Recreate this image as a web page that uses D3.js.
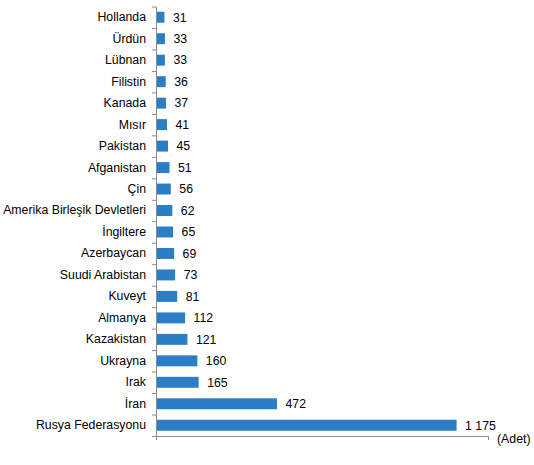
<!DOCTYPE html>
<html>
<head>
<meta charset="utf-8">
<script src="https://cdn.jsdelivr.net/npm/d3@7"></script>
<style>
  body { margin: 0; background: #fff; }
  svg { display: block; font-family: "Liberation Sans", Arial, sans-serif; }
</style>
</head>
<body>
<div id="chart"></div>
<script>
const countries = [
  'Hollanda', 'Ürdün', 'Lübnan', 'Filistin', 'Kanada', 'Mısır', 'Pakistan',
  'Afganistan', 'Çin', 'Amerika Birleşik Devletleri', 'İngiltere', 'Azerbaycan',
  'Suudi Arabistan', 'Kuveyt', 'Almanya', 'Kazakistan', 'Ukrayna', 'Irak',
  'İran', 'Rusya Federasyonu'
]
const counts = [31, 33, 33, 36, 37, 41, 45, 51, 56, 62, 65, 69, 73, 81, 112, 121, 160, 165, 472, 1175]
const xDomain = [0, 1300]
const unitLabel = '(Adet)'

const data = countries.map((c, i) => ({ name: c, value: counts[i] }))

const W = 534, H = 465
const plotLeft = 156, plotRight = 488, plotTop = 6.5, plotBottom = 436
const fontSize = 12.3

const svg = d3.select('#chart').append('svg')
  .attr('width', W)
  .attr('height', H)

const x = d3.scaleLinear().domain(xDomain).range([plotLeft, plotRight])

const y = d3.scaleBand()
  .domain(countries)
  .range([plotTop, plotBottom])
  .paddingInner(0.49)
  .paddingOuter(0.245)

const fmt = d3.formatLocale({ decimal: ',', thousands: ' ', grouping: [3], currency: ['', ''] }).format(',d')

// bars
svg.selectAll('rect.bar')
  .data(data)
  .enter()
  .append('rect')
  .attr('class', 'bar')
  .attr('x', x(0) + 0.5)
  .attr('y', d => y(d.name))
  .attr('width', d => x(d.value) - x(0))
  .attr('height', y.bandwidth())
  .attr('fill', '#2b7ec3')

// value labels
svg.selectAll('text.val')
  .data(data)
  .enter()
  .append('text')
  .attr('class', 'val')
  .attr('x', d => x(d.value) + 9)
  .attr('y', d => y(d.name) + y.bandwidth() / 2)
  .attr('dy', '0.35em')
  .attr('font-size', fontSize)
  .attr('fill', '#000')
  .text(d => fmt(d.value))

// y axis: line with ticks at the band boundaries
const edges = d3.scaleLinear().domain([0, countries.length]).range([plotTop, plotBottom])
svg.append('g')
  .attr('transform', `translate(${plotLeft},0)`)
  .call(d3.axisLeft(edges).tickValues(d3.range(countries.length + 1)).tickFormat('').tickSize(4).tickSizeOuter(0))
  .call(g => g.selectAll('line, path').attr('stroke', '#8c8c8c'))

// category labels
svg.append('g')
  .attr('transform', `translate(${plotLeft},0)`)
  .call(d3.axisLeft(y).tickSize(0).tickPadding(10))
  .call(g => g.select('.domain').remove())
  .call(g => g.selectAll('text').attr('font-size', fontSize).attr('fill', '#000')
    .attr('font-family', '"Liberation Sans", Arial, sans-serif'))

// x axis
svg.append('g')
  .attr('transform', `translate(0,${plotBottom})`)
  .call(d3.axisBottom(x).tickValues(xDomain).tickFormat('').tickSize(4).tickSizeOuter(0))
  .call(g => g.selectAll('line, path').attr('stroke', '#8c8c8c'))

svg.append('text')
  .attr('x', 497)
  .attr('y', 443)
  .attr('font-size', fontSize)
  .attr('fill', '#000')
  .text(unitLabel)
</script>
</body>
</html>
